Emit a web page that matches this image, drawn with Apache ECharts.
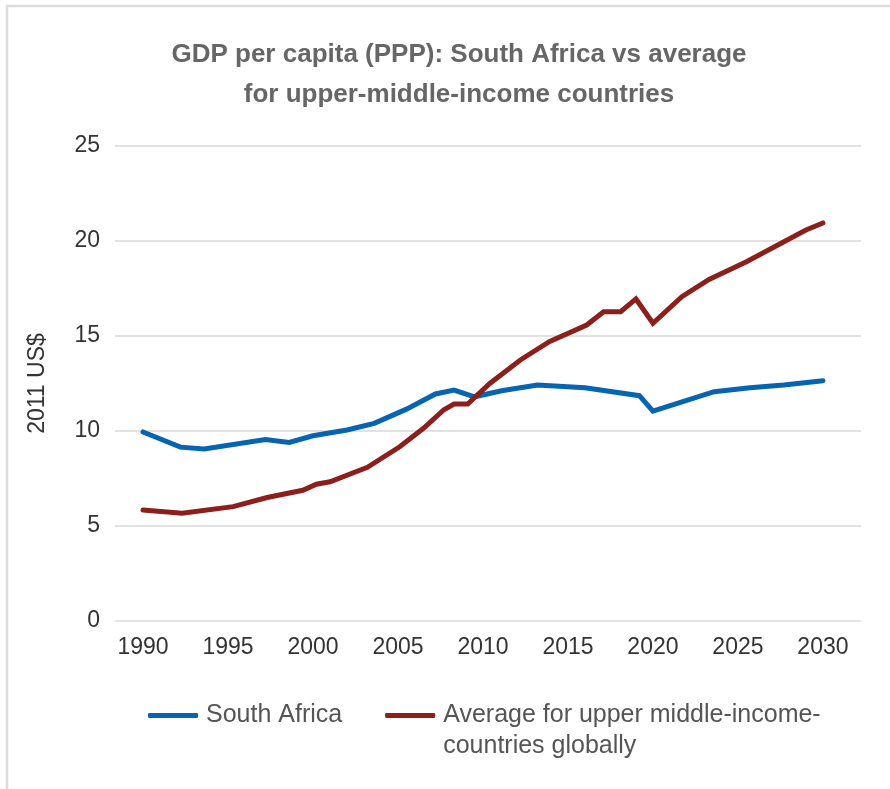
<!DOCTYPE html>
<html>
<head>
<meta charset="utf-8">
<title>GDP per capita (PPP)</title>
<script src="https://cdn.jsdelivr.net/npm/echarts@6/dist/echarts.min.js"></script>
<style>
html, body { margin: 0; padding: 0; background: #fff; }
#chart { width: 890px; height: 789px; }
</style>
</head>
<body>
<div id="chart"></div>
<script>
// values, [year, thousand 2011 US$]
var southAfrica = [
	[1990, 9.95], [1992.2, 9.15], [1993.6, 9.05], [1997.2, 9.55], [1998.6, 9.4],
	[2000, 9.75], [2002, 10.05], [2003.6, 10.4], [2005.5, 11.15], [2007.2, 11.95],
	[2008.3, 12.15], [2009.5, 11.8], [2011.1, 12.12], [2013.2, 12.42], [2016, 12.28],
	[2019.2, 11.86], [2020, 11.05], [2023.6, 12.07], [2025.7, 12.28], [2027.7, 12.42],
	[2030, 12.65]
];
var upperMiddle = [
	[1990, 5.84], [1992.3, 5.67], [1995.3, 6.02], [1997.3, 6.5], [1999.4, 6.88],
	[2000.2, 7.2], [2001, 7.33], [2003.2, 8.09], [2005.1, 9.17], [2006.5, 10.14],
	[2007.7, 11.12], [2008.3, 11.42], [2009.1, 11.42], [2010.4, 12.5], [2012.2, 13.74],
	[2013.9, 14.7], [2016.1, 15.58], [2017.1, 16.28], [2018.1, 16.28], [2019, 16.95],
	[2020, 15.67], [2021.7, 17.07], [2023.3, 17.98], [2025.5, 18.91], [2029, 20.58],
	[2030, 20.95]
];
var yearTicks = [1990, 1995, 2000, 2005, 2010, 2015, 2020, 2025, 2030];
var seriesNames = ['South Africa', 'Average for upper middle-income-countries globally'];
var seriesColors = ['#0664b1', '#8c1f1b'];

var font = '"Liberation Sans", Arial, sans-serif';
var chart = echarts.init(document.getElementById('chart'));

chart.setOption({
	backgroundColor: '#fff',
	animation: false,
	title: {
		text: 'GDP per capita (PPP): South Africa vs average\nfor upper-middle-income countries',
		left: 454,
		top: 30,
		textAlign: 'center',
		textStyle: {
			fontFamily: font,
			fontSize: 26,
			fontWeight: 'bold',
			color: '#666',
			lineHeight: 40
		}
	},
	legend: {
		left: 148,
		top: 669,
		padding: 0,
		itemGap: 43,
		itemWidth: 50,
		itemHeight: 5,
		icon: 'roundRect',
		formatter: function (name) {
			// empty first line so the first real line sits beside the icon
			if (name == seriesNames[1]) return ' \nAverage for upper middle-income-\ncountries globally';
			return name;
		},
		textStyle: {
			fontFamily: font,
			fontSize: 25,
			color: '#555',
			lineHeight: 31,
			padding: [0, 0, 0, 3]
		},
		data: seriesNames
	},
	grid: {
		left: 115,
		right: 29,
		top: 146,
		bottom: 168
	},
	xAxis: {
		type: 'value',
		min: 1988.35,
		max: 2032.24,
		axisLine: { show: false },
		axisTick: { show: false },
		splitLine: { show: false },
		axisLabel: {
			customValues: yearTicks,
			formatter: function (v) { return String(v); },
			margin: 15,
			fontFamily: font,
			fontSize: 23,
			color: '#333'
		}
	},
	yAxis: {
		type: 'value',
		min: 0,
		max: 25,
		interval: 5,
		name: '2011 US$',
		nameLocation: 'middle',
		nameGap: 66,
		nameRotate: 90,
		nameTextStyle: {
			fontFamily: font,
			fontSize: 23,
			color: '#333'
		},
		axisLine: { show: false },
		axisTick: { show: false },
		axisLabel: {
			margin: 15,
			fontFamily: font,
			fontSize: 23,
			color: '#333'
		},
		splitLine: { lineStyle: { color: '#d9d9d9', width: 1.5 } }
	},
	graphic: [{
		type: 'polyline',
		shape: { points: [[7, 789], [7, 6], [890, 6]] },
		style: { stroke: '#dcdcdc', lineWidth: 2.5, fill: null },
		silent: true
	}],
	series: [{
		name: seriesNames[0],
		type: 'line',
		data: southAfrica,
		showSymbol: false,
		color: seriesColors[0],
		lineStyle: { width: 5, color: seriesColors[0], cap: 'round', join: 'miter' }
	}, {
		name: seriesNames[1],
		type: 'line',
		data: upperMiddle,
		showSymbol: false,
		color: seriesColors[1],
		lineStyle: { width: 5, color: seriesColors[1], cap: 'round', join: 'miter' }
	}]
});
</script>
</body>
</html>
